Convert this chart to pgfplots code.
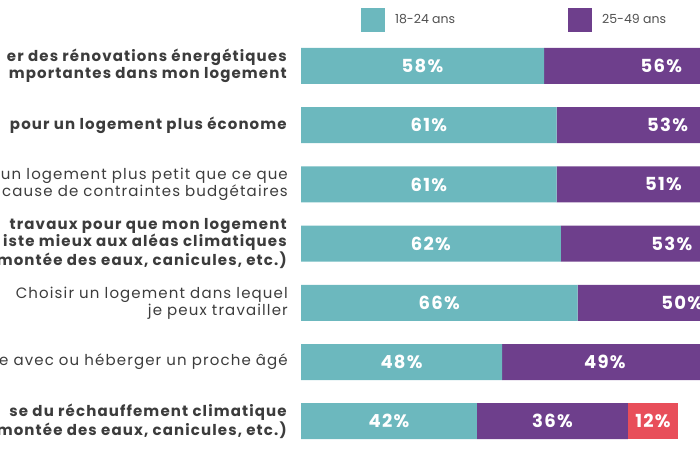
\documentclass[border=0pt]{standalone}
\usepackage{pgfplots}
\pgfplotsset{compat=1.18}
\usepackage{pgfplotstable}
\usepackage{fontspec}
\setmainfont{Poppins}
\newfontfamily\lblfont[LetterSpace=7.5]{Poppins}
\newfontfamily\numfont[LetterSpace=7]{Poppins}
\definecolor{teal1}{HTML}{6CB8BE}
\definecolor{purp1}{HTML}{6E3F8C}
\definecolor{red1}{HTML}{E84E5A}
\definecolor{txt}{HTML}{3C3C3C}
\definecolor{txtl}{HTML}{505050}

\pgfplotstableread{
y a b c
384   58 56 0
324.8 61 53 0
265.6 61 51 0
206.4 62 53 0
147.2 66 50 0
88    48 49 0
28.8  42 36 12
}\bars

\pgfplotstableread{
x y v
29   384 58
86   384 56
30.5 324.8 61
87.5 324.8 53
30.5 265.6 61
86.5 265.6 51
31   206.4 62
88.5 206.4 53
33   147.2 66
91   147.2 50
24   88 48
72.5 88 49
21   28.8 42
60   28.8 36
84   28.8 12
}\labs

\begin{document}
\begin{tikzpicture}
\useasboundingbox (0pt,0pt) rectangle (700pt,450pt);
\clip (0pt,0pt) rectangle (700pt,450pt);
\begin{axis}[
  at={(301pt,0pt)}, anchor=south west,
  scale only axis, width=399pt, height=450pt,
  xmin=0, xmax=95.23, ymin=0, ymax=450,
  xbar stacked, bar width=36,
  axis line style={draw=none},
  xtick=\empty,
  ytick={384,324.8,265.6,206.4,147.2,88,28.8},
  yticklabels={
    {\textbf{er des rénovations énergétiques}\\\textbf{mportantes dans mon logement}},
    {\textbf{pour un logement plus économe}},
    {un logement plus petit que ce que\\cause de contraintes budgétaires},
    {\textbf{travaux pour que mon logement}\\\textbf{iste mieux aux aléas climatiques}\\\textbf{montée des eaux, canicules, etc.)}},
    {Choisir un logement dans lequel\\je peux travailler},
    {e avec ou héberger un proche âgé},
    {\textbf{se du réchauffement climatique}\\\textbf{montée des eaux, canicules, etc.)}}
  },
  major tick length=0pt,
  yticklabel style={align=right, anchor=east, inner sep=0pt, xshift=-13pt,
    font=\lblfont\fontsize{15}{17}\selectfont, text=txt},
  legend columns=2,
  legend style={draw=none, fill=none, at={(axis description cs:0.150,0.9556)},
    anchor=west, inner sep=0pt, font=\fontsize{12.5}{14}\selectfont, text=txtl,
    nodes={inner sep=0pt},
    /tikz/every odd column/.append style={column sep=10pt},
    /tikz/every even column/.append style={column sep=113pt}},
]
\addplot[fill=teal1, draw=none,
  legend image code/.code={\fill[teal1] (0pt,-12pt) rectangle (24pt,12pt);}]
  table[x=a, y=y] {\bars};
\addlegendentry{18-24 ans}
\addplot[fill=purp1, draw=none,
  legend image code/.code={\fill[purp1] (0pt,-12pt) rectangle (24pt,12pt);}]
  table[x=b, y=y] {\bars};
\addlegendentry{25-49 ans}
\addplot[fill=red1, draw=none, forget plot] table[x=c, y=y] {\bars};
\end{axis}
\begin{axis}[
  at={(301pt,0pt)}, anchor=south west,
  scale only axis, width=399pt, height=450pt,
  xmin=0, xmax=95.23, ymin=0, ymax=450,
  hide axis, clip=false,
]
\addplot[only marks, mark=none, point meta=explicit symbolic,
  nodes near coords={\pgfplotspointmeta\%},
  every node near coord/.append style={anchor=center, text=white,
    font=\numfont\fontsize{18}{20}\selectfont\bfseries}]
  table[x=x, y=y, meta=v] {\labs};
\end{axis}
\end{tikzpicture}
\end{document}
